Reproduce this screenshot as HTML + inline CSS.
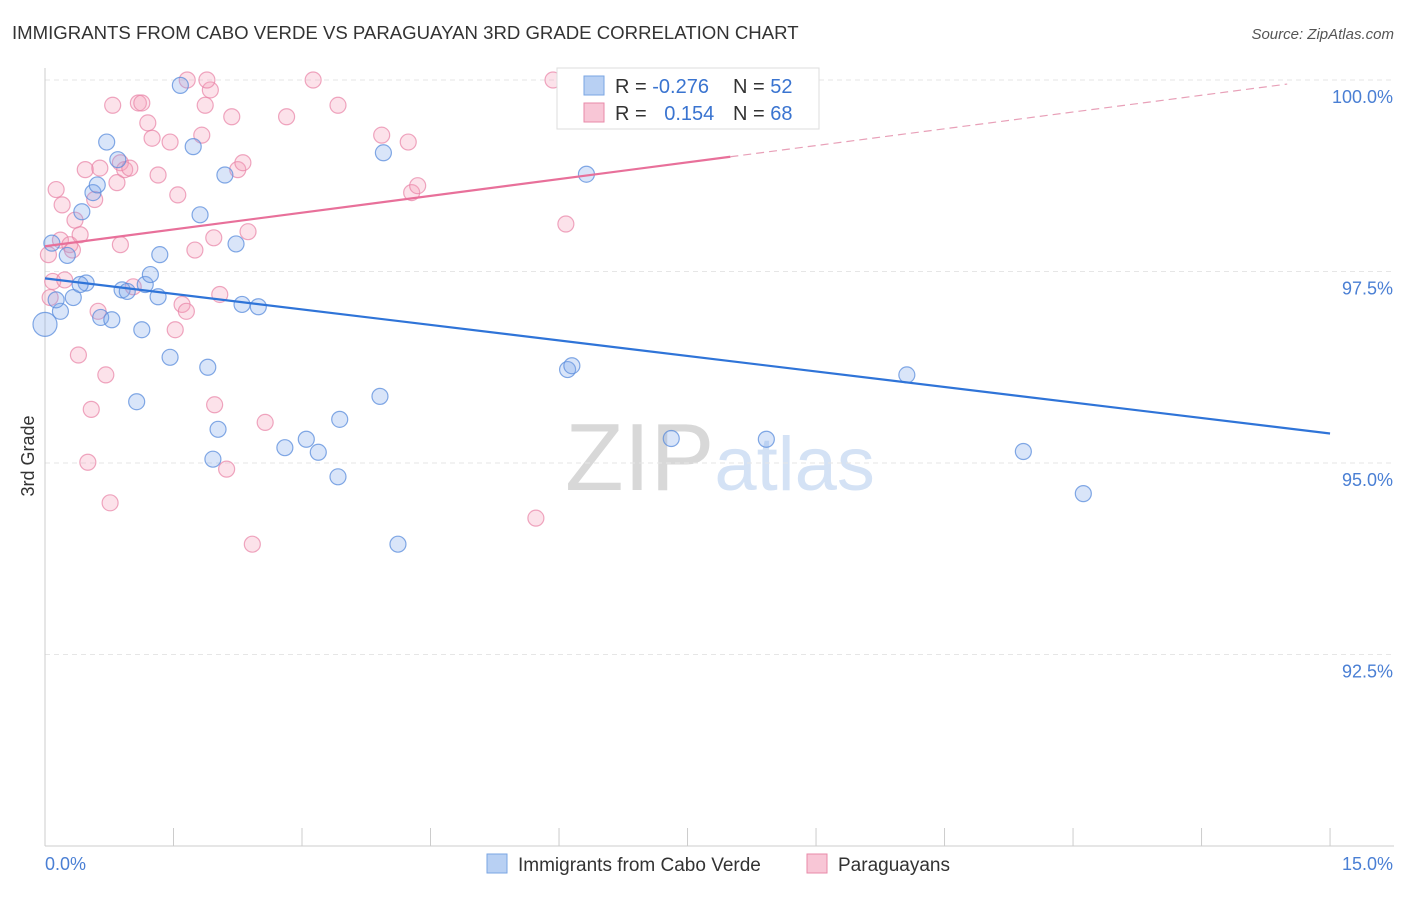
<!DOCTYPE html>
<html><head><meta charset="utf-8"><style>
body{margin:0;background:#fff;font-family:"Liberation Sans",sans-serif;}
svg text{font-family:"Liberation Sans",sans-serif;}
</style></head><body>
<svg id="chart" width="1406" height="892" xmlns="http://www.w3.org/2000/svg">
<text x="12" y="39" font-size="18.6" fill="#333">IMMIGRANTS FROM CABO VERDE VS PARAGUAYAN 3RD GRADE CORRELATION CHART</text>
<text x="1394" y="39" font-size="15" fill="#555" text-anchor="end" font-style="italic">Source: ZipAtlas.com</text>
<text x="720" y="490" font-size="96" text-anchor="middle" fill="#ddd" font-family="Liberation Serif"><tspan fill="#d8d8d8">ZIP</tspan><tspan fill="#d4e2f5" font-family="Liberation Sans" font-size="76">atlas</tspan></text>
<g id="grid"></g><g id="axes"></g><g id="pts"></g><g id="trends"></g>
<text transform="translate(34,456) rotate(-90)" font-size="18" fill="#333" text-anchor="middle">3rd Grade</text>
<g>
<rect x="557" y="68" width="262" height="61" fill="#fff" stroke="#ddd"/>
<rect x="584" y="76" width="20" height="19" fill="#b8d0f3" stroke="#7aa6e3"/>
<text x="615" y="93" font-size="20" fill="#333">R = <tspan fill="#3a74d0">-0.276</tspan></text>
<text x="733" y="93" font-size="20" fill="#333">N = <tspan fill="#3a74d0">52</tspan></text>
<rect x="584" y="103" width="20" height="19" fill="#f8c6d6" stroke="#e88aa8"/>
<text x="615" y="120" font-size="20" fill="#333">R = <tspan fill="#3a74d0" dx="12">0.154</tspan></text>
<text x="733" y="120" font-size="20" fill="#333">N = <tspan fill="#3a74d0">68</tspan></text>
</g>
<g>
<rect x="487" y="854" width="20" height="19" fill="#b8d0f3" stroke="#7aa6e3"/>
<text x="518" y="871" font-size="19" fill="#333">Immigrants from Cabo Verde</text>
<rect x="807" y="854" width="20" height="19" fill="#f8c6d6" stroke="#e88aa8"/>
<text x="838" y="871" font-size="19" fill="#333">Paraguayans</text>
</g>
</svg>
<script>
const yTicks=[100,97.5,95,92.5];
const yTickLabels=["100.0%","97.5%","95.0%","92.5%"];
const blueX=[0.08,0.26,0.18,0.13,0.33,0.48,0.41,0.0,0.43,0.56,0.61,0.72,0.85,0.65,0.78,0.90,0.96,1.17,1.23,1.34,1.32,1.13,1.46,1.07,1.58,1.73,1.81,1.90,2.02,1.96,2.10,2.23,2.30,2.49,2.80,3.05,3.19,3.44,3.42,3.91,3.95,4.12,6.10,6.15,6.32,7.31,8.42,10.06,11.42,12.12,7.47];
const blueY=[97.87,97.71,96.98,97.13,97.16,97.35,97.33,96.81,98.28,98.53,98.63,99.19,98.96,96.90,96.87,97.26,97.24,97.33,97.46,97.72,97.17,96.74,96.38,95.80,99.93,99.13,98.24,96.25,95.44,95.05,98.76,97.86,97.07,97.04,95.20,95.31,95.14,95.57,94.82,95.87,99.05,93.94,96.22,96.27,98.77,95.32,95.31,96.15,95.15,94.60,100.0];
const pinkX=[0.13,0.20,0.04,0.09,0.06,0.18,0.29,0.23,0.32,0.35,0.41,0.47,0.58,0.64,0.79,0.84,0.88,0.93,0.99,1.09,1.13,1.20,1.25,1.32,1.46,1.55,1.66,1.75,1.87,1.93,1.89,1.83,1.97,2.04,2.18,2.25,2.31,2.37,1.98,2.12,2.42,2.57,2.82,3.13,3.42,3.93,4.24,4.28,4.35,5.93,6.08,5.73,6.90,0.88,1.03,1.60,1.65,1.52,0.39,0.71,0.54,0.50,0.76,0.62];
const pinkY=[98.57,98.37,97.72,97.37,97.16,97.91,97.85,97.39,97.78,98.17,97.98,98.83,98.44,98.85,99.67,98.66,98.92,98.83,98.85,99.70,99.70,99.44,99.24,98.76,99.19,98.50,100.0,97.78,99.67,99.87,100.0,99.28,97.94,97.20,99.52,98.83,98.92,98.02,95.76,94.92,93.94,95.53,99.52,100.0,99.67,99.28,99.19,98.53,98.62,100.0,98.12,94.28,100.0,97.85,97.30,97.07,96.98,96.74,96.41,96.15,95.70,95.01,94.48,96.98];
const blueTrend=[97.41,-0.135];
const pinkTrend=[97.83,0.146];
const X=v=>45+v*85.67, Y=v=>80+(100-v)*76.6;
const NS="http://www.w3.org/2000/svg";
function mk(t,a,p){const e=document.createElementNS(NS,t);for(const k in a)e.setAttribute(k,a[k]);p.appendChild(e);return e;}
const grid=document.getElementById('grid'),axes=document.getElementById('axes'),pts=document.getElementById('pts'),tr=document.getElementById('trends');
yTicks.forEach((t,i)=>{
 const l=mk('line',{x1:45,x2:1394,y1:Y(t),y2:Y(t),stroke:'#e6e6e6','stroke-dasharray':'5,4'},grid);
 
 
 const tx=mk('text',{x:1393,y:Y(t)+23,'font-size':18,fill:'#4a7fd4','text-anchor':'end'},axes);
 tx.textContent=yTickLabels[i];
 
 
});
const ya=mk('line',{x1:45,x2:45,y1:68,y2:846,stroke:'#ccc'},axes);


const xa=mk('line',{x1:45,x2:1394,y1:846,y2:846,stroke:'#ccc'},axes);


for(let i=0;i<=10;i++){const t=mk('line',{x1:X(i*1.5),x2:X(i*1.5),y1:828,y2:846,stroke:'#ccc'},axes);
 
 }
[["0.0%",45,'start'],["15.0%",1393,'end']].forEach(a=>{const t=mk('text',{x:a[1],y:870,'font-size':18,fill:'#4a7fd4','text-anchor':a[2]},axes);t.textContent=a[0];
 
 });
function dots(xs,ys,fill,stroke,name){xs.forEach((x,i)=>{const c=mk('circle',{cx:X(x),cy:Y(ys[i]),r:(x===0?12:8),fill:fill,stroke:stroke,'stroke-width':1.2},pts);
 
 });}
dots(pinkX,pinkY,'rgba(244,160,186,0.3)','rgba(232,130,165,0.7)','paraguayan-point');
dots(blueX,blueY,'rgba(130,170,235,0.3)','rgba(90,140,220,0.75)','cabo-verde-point');
const b=mk('line',{x1:X(0),y1:Y(blueTrend[0]),x2:X(15),y2:Y(blueTrend[0]+15*blueTrend[1]),stroke:'#2f74d8','stroke-width':2.2},tr);


const p=mk('line',{x1:X(0),y1:Y(pinkTrend[0]),x2:X(8),y2:Y(pinkTrend[0]+8*pinkTrend[1]),stroke:'#e8709a','stroke-width':2.2},tr);


const pd=mk('line',{x1:X(8),y1:Y(pinkTrend[0]+8*pinkTrend[1]),x2:X(14.5),y2:Y(pinkTrend[0]+14.5*pinkTrend[1]),stroke:'#e8a0b8','stroke-width':1.2,'stroke-dasharray':'8,5'},tr);


</script>
</body></html>
